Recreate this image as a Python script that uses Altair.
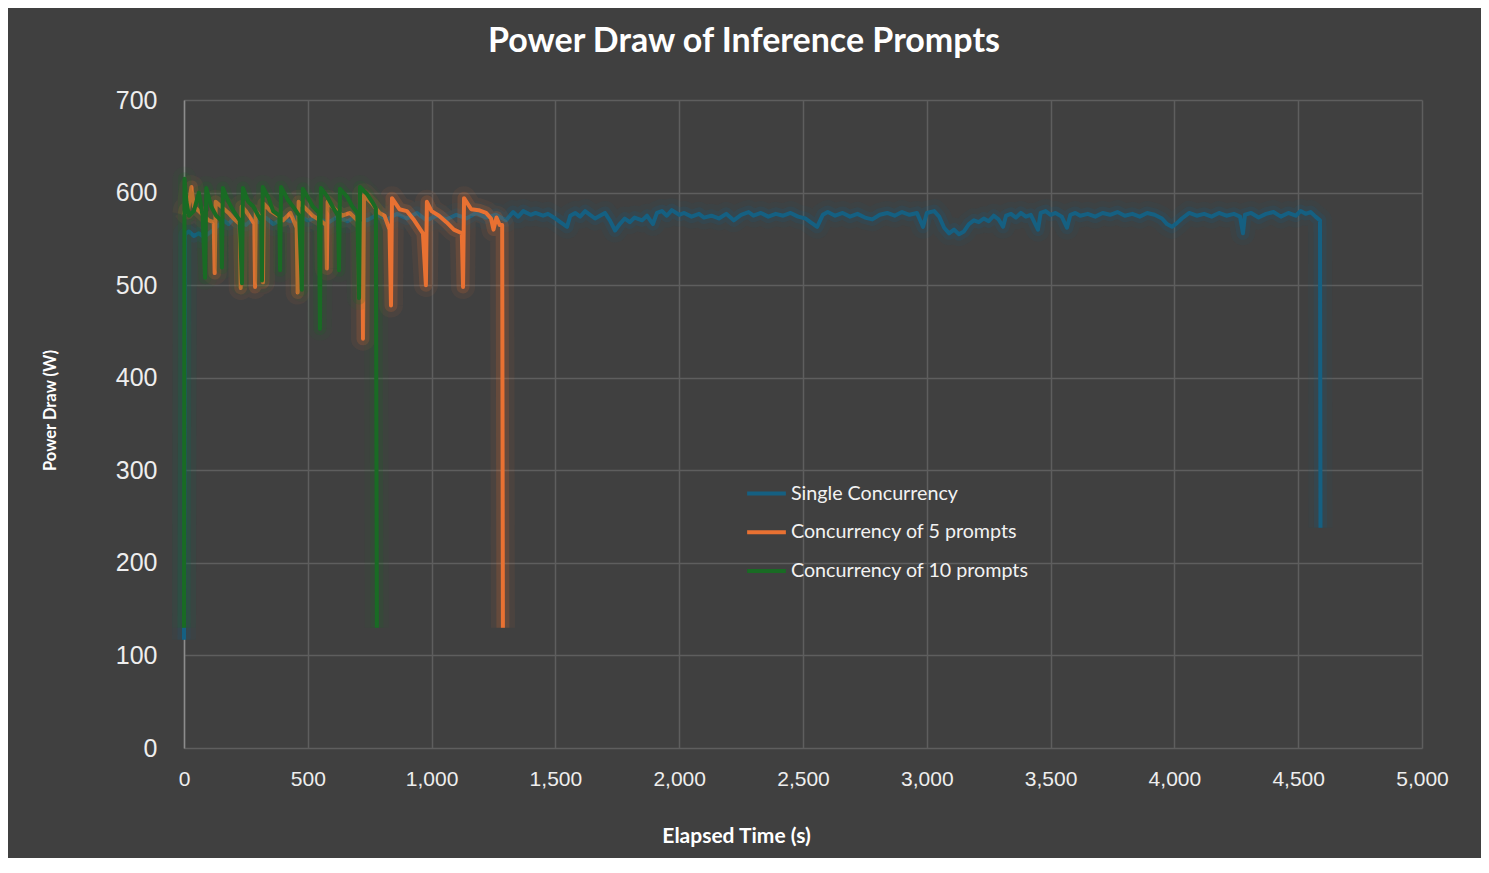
import altair as alt
import pandas as pd

series_names = ["Single Concurrency", "Concurrency of 5 prompts", "Concurrency of 10 prompts"]
series_colors = ["#156082", "#E97132", "#196B24"]

x_ticks = [0, 500, 1000, 1500, 2000, 2500, 3000, 3500, 4000, 4500, 5000]
y_ticks = [0, 100, 200, 300, 400, 500, 600, 700]

blue_t = [0, 4, 20, 40, 60, 80, 100, 120, 140, 160, 180, 200, 220, 250, 280, 300, 330, 360, 400, 430,
          460, 500, 540, 580, 620, 660, 700, 740, 780, 820, 860, 900, 940, 980, 1020, 1060, 1100, 1140,
          1180, 1220, 1260, 1300, 1329, 1350, 1370, 1400, 1420, 1450, 1470, 1500, 1520, 1547, 1560, 1580,
          1600, 1620, 1640, 1660, 1680, 1700, 1720, 1741, 1760, 1780, 1800, 1820, 1850, 1870, 1894, 1910,
          1930, 1950, 1970, 2000, 2020, 2050, 2080, 2100, 2130, 2160, 2190, 2220, 2250, 2280, 2300, 2330,
          2360, 2390, 2420, 2450, 2480, 2510, 2530, 2557, 2580, 2600, 2630, 2660, 2690, 2720, 2750, 2780,
          2810, 2840, 2870, 2900, 2930, 2960, 2985, 3000, 3030, 3050, 3070, 3090, 3110, 3130, 3150, 3170,
          3190, 3210, 3230, 3250, 3270, 3290, 3308, 3320, 3340, 3360, 3380, 3400, 3420, 3449, 3460, 3480,
          3500, 3520, 3545, 3566, 3580, 3600, 3620, 3650, 3680, 3710, 3740, 3770, 3800, 3830, 3860, 3890,
          3920, 3950, 3970, 3990, 4010, 4030, 4060, 4090, 4120, 4150, 4180, 4210, 4240, 4265, 4277, 4285,
          4310, 4340, 4370, 4400, 4430, 4460, 4490, 4510, 4530, 4550, 4570, 4588, 4590]
blue_v = [117, 555, 558, 553, 556, 552, 556, 560, 565, 570, 566, 572, 568, 565, 572, 568, 573, 566, 572, 569,
          575, 570, 573, 567, 574, 569, 575, 570, 576, 571, 577, 572, 578, 570, 575, 571, 576, 572,
          578, 573, 576, 570, 579, 574, 580, 576, 578, 575, 577, 572, 568, 563, 575, 578,
          574, 580, 576, 572, 575, 578, 570, 559, 566, 572, 568, 573, 570, 575, 566, 578,
          580, 575, 581, 576, 578, 574, 577, 573, 575, 572, 577, 570, 576, 579, 575, 578,
          574, 577, 575, 578, 574, 572, 568, 563, 576, 579, 575, 578, 574, 577, 573, 571,
          576, 578, 575, 579, 576, 578, 563, 578, 580, 574, 562, 556, 560, 555, 558, 566,
          570, 568, 572, 569, 575, 571, 563, 575, 577, 573, 578, 574, 576, 560, 578, 580,
          576, 578, 574, 562, 576, 578, 575, 577, 574, 578, 576, 579, 575, 577, 574, 578,
          576, 572, 566, 563, 567, 572, 578, 575, 577, 574, 578, 575, 577, 574, 556, 576,
          578, 573, 577, 579, 574, 578, 575, 580, 577, 579, 574, 570, 238]

orange_t = [0, 5, 15, 30, 40, 60, 80, 100, 120, 124, 128, 150, 180, 200, 225, 229, 233, 250, 270, 284,
            287, 290, 305, 316, 319, 322, 350, 380, 400, 430, 455, 459, 463, 490, 520, 550, 574, 577, 580,
            610, 640, 670, 700, 720, 723, 727, 760, 790, 810, 830, 836, 840, 870, 900, 930, 965, 977, 981,
            1000, 1030, 1060, 1090, 1122, 1127, 1131, 1160, 1190, 1220, 1240, 1250, 1262, 1275, 1285, 1288]
orange_v = [576, 582, 578, 606, 585, 580, 575, 570, 568, 513, 590, 585, 578, 572, 566, 497, 585, 580, 572, 566,
            498, 580, 575, 570, 503, 588, 580, 575, 570, 578, 562, 492, 590, 583, 575, 570, 565, 518, 590,
            582, 575, 578, 570, 565, 442, 597, 588, 578, 575, 560, 478, 594, 582, 580, 570, 556, 500, 590,
            580, 575, 568, 560, 556, 498, 594, 582, 581, 578, 572, 560, 573, 565, 565, 130]

green_t = [0, 2, 10, 20, 40, 60, 75, 85, 90, 110, 130, 150, 153, 157, 180, 200, 225, 234, 238, 260,
           280, 300, 312, 315, 318, 340, 360, 385, 388, 392, 420, 440, 465, 476, 480, 500, 520, 545, 549,
           553, 580, 600, 622, 626, 630, 660, 680, 700, 707, 711, 740, 760, 775, 779]
green_v = [130, 615, 590, 575, 580, 600, 575, 508, 605, 585, 575, 570, 519, 605, 590, 580, 570, 502, 605, 590,
           585, 575, 570, 505, 606, 595, 580, 575, 516, 606, 592, 585, 575, 495, 604, 595, 585, 578, 453,
           605, 595, 585, 575, 516, 604, 595, 585, 578, 486, 606, 598, 590, 583, 130]

rows = []
for name, ts, vs in zip(series_names, [blue_t, orange_t, green_t], [blue_v, orange_v, green_v]):
    for t, v in zip(ts, vs):
        rows.append({"series": name, "t": t, "v": v})
df = pd.DataFrame(rows)

label_font = "Liberation Sans"
text_font = "Lato"

x_enc = alt.X(
    "t:Q",
    scale=alt.Scale(domain=[0, 5000], nice=False),
    axis=alt.Axis(
        values=x_ticks, format=",.0f", title="Elapsed Time (s)", labelFontSize=21, labelFont=label_font,
        labelColor="#eeeeee", labelPadding=20, ticks=False, domain=False, grid=True,
        gridColor="#5e5e5e", gridWidth=1.5, titleFont=text_font, titleFontSize=21,
        titleFontWeight="bold", titleColor="#ffffff", titleX=552, titleY=88, titleBaseline="middle",
        labelFlush=False,
    ),
)
y_enc = alt.Y(
    "v:Q",
    scale=alt.Scale(domain=[0, 700], nice=False),
    axis=alt.Axis(
        values=y_ticks, title="Power Draw (W)", labelFontSize=25, labelFont=label_font,
        labelColor="#eeeeee", labelPadding=27, ticks=False, domain=True, domainColor="#8c8c8c",
        domainWidth=1.5, grid=True, gridColor="#5e5e5e", gridWidth=1.5, titleFont=text_font,
        titleFontSize=16.5, titleFontWeight="bold", titleColor="#ffffff", titleX=-134, titleY=310,
        titleBaseline="middle", titleAngle=270,
    ),
)
color_enc = alt.Color(
    "series:N",
    scale=alt.Scale(domain=series_names, range=series_colors),
    legend=alt.Legend(
        title=None, orient="none", legendX=561, legendY=372, symbolType="stroke",
        symbolSize=1500, symbolStrokeWidth=4, symbolOpacity=1, labelFont=text_font,
        labelFontSize=19.7, labelColor="#f2f2f2", labelOffset=3, rowPadding=6.8, labelLimit=400,
    ),
)

layers = []
for name in series_names:
    base = alt.Chart(df).transform_filter(alt.datum.series == name)
    layers.append(base.mark_line(strokeWidth=24, opacity=0.07, strokeJoin="round").encode(
        x=x_enc, y=y_enc, color=color_enc))
    layers.append(base.mark_line(strokeWidth=13, opacity=0.17, strokeJoin="round").encode(
        x=x_enc, y=y_enc, color=color_enc))
    layers.append(base.mark_line(strokeWidth=4, strokeJoin="round").encode(
        x=x_enc, y=y_enc, color=color_enc))

chart = alt.layer(*layers).properties(
    width=1238,
    height=648,
    padding={"left": 176, "top": 92, "right": 59, "bottom": 110},
    autosize=alt.AutoSizeParams(type="none"),
    background="#404040",
    title=alt.TitleParams(
        "Power Draw of Inference Prompts", font=text_font, fontSize=34, fontWeight="bold",
        color="#ffffff", anchor="middle", dx=-59, offset=29,
    ),
).configure_view(stroke=None)

chart.save("out.html", embed_options={"renderer": "svg", "actions": False})
